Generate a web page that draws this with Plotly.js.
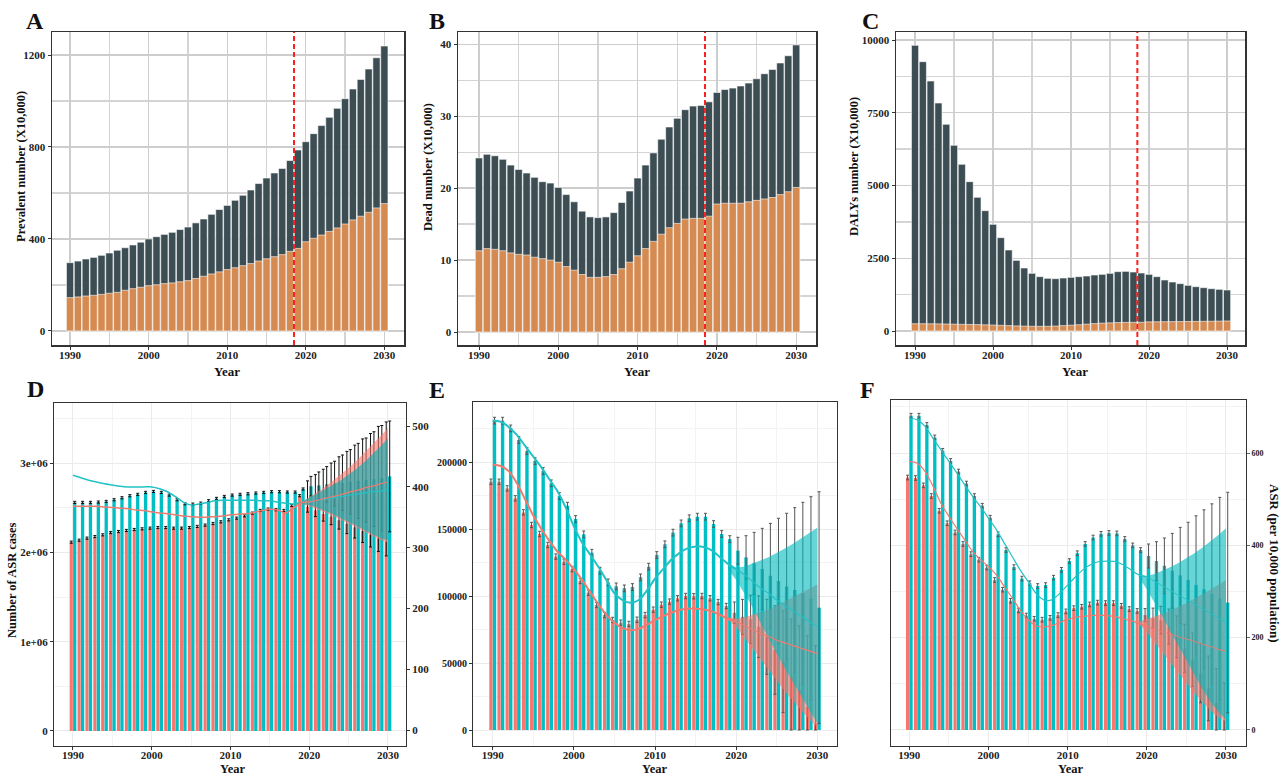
<!DOCTYPE html>
<html><head><meta charset="utf-8">
<script src="https://cdn.plot.ly/plotly-3.0.1.min.js"></script>
<style>html,body{margin:0;padding:0;background:#fff}#chart{width:1282px;height:778px}</style>
</head><body><div id="chart"></div>
<script>
// ---------- categories ----------
const years = [1990,1991,1992,1993,1994,1995,1996,1997,1998,1999,2000,2001,2002,2003,2004,2005,2006,2007,2008,2009,2010,2011,2012,2013,2014,2015,2016,2017,2018,2019,2020,2021,2022,2023,2024,2025,2026,2027,2028,2029,2030];
const histLineYears = [1990,1991,1992,1993,1994,1995,1996,1997,1998,1999,2000,2001,2002,2003,2004,2005,2006,2007,2008,2009,2010,2011,2012,2013,2014,2015,2016,2017,2018,2019,2020];
const projYears = [2020,2021,2022,2023,2024,2025,2026,2027,2028,2029,2030];
const fanYears = [2019,2020,2021,2022,2023,2024,2025,2026,2027,2028,2029,2030];
const forecastYear = 2018.5;

// ---------- A: prevalent number (X10,000) ----------
const prevTotal = [297,304,313,320,329,339,351,362,374,386,400,410,420,429,441,452,470,487,507,528,546,568,590,613,641,665,687,707,741,787,823,858,893,929,968,1010,1052,1094,1139,1188,1239];
const prevOrange = [145,148,152,155,159,164,168,177,184,190,197,201,206,209,214,219,228,238,248,257,267,275,284,293,304,314,323,332,346,359,388,403,417,433,448,465,483,499,516,535,554];

// ---------- B: dead number (X10,000) ----------
const deadTotal = [24.2,24.7,24.5,24.0,23.2,22.6,22.1,21.5,20.9,20.7,20.1,19.1,18.1,16.8,16.0,15.9,16.0,16.6,18.0,19.6,21.4,23.2,24.9,26.8,28.5,29.7,30.9,31.4,31.5,32.0,33.3,33.7,33.9,34.2,34.6,35.2,35.9,36.5,37.4,38.4,39.9];
const deadOrange = [11.3,11.6,11.5,11.3,11.0,10.8,10.7,10.4,10.2,10.0,9.7,9.1,8.6,8.0,7.6,7.6,7.7,8.0,8.8,9.7,10.6,11.6,12.6,13.6,14.5,15.1,15.7,15.8,15.8,16.1,17.8,17.9,17.9,17.9,18.1,18.3,18.5,18.7,19.1,19.5,20.1];

// ---------- C: DALYs number (X10,000) ----------
const dalyTotal = [9817,9255,8591,7835,7102,6380,5727,5132,4593,4135,3666,3207,2784,2428,2165,1982,1867,1810,1798,1821,1844,1867,1890,1924,1947,1982,2039,2050,2027,1993,1947,1867,1753,1684,1627,1569,1523,1489,1455,1432,1409];
const dalyOrange = [250,250,248,245,240,235,230,225,220,212,205,195,185,175,168,162,160,162,170,185,200,215,235,255,270,280,290,295,298,300,315,318,320,322,325,328,330,333,336,340,345];

// ---------- D: number of ASR cases (bars) and ASR (lines) ----------
const dRed = [2114000,2136000,2159000,2177000,2196000,2222000,2233000,2245000,2256000,2263000,2271000,2278000,2278000,2271000,2271000,2278000,2290000,2305000,2323000,2342000,2364000,2383000,2409000,2439000,2469000,2484000,2477000,2469000,2525000,2634000,2510000,2470000,2430000,2400000,2360000,2320000,2280000,2240000,2200000,2160000,2120000];
const dTeal = [2559000,2559000,2559000,2563000,2570000,2589000,2611000,2634000,2649000,2671000,2682000,2671000,2641000,2589000,2544000,2540000,2551000,2578000,2604000,2626000,2641000,2649000,2656000,2664000,2671000,2679000,2679000,2675000,2675000,2709000,2740000,2750000,2760000,2770000,2780000,2790000,2800000,2810000,2820000,2830000,2850000];
const dTealErr = [12000,12000,12000,12000,12000,12000,12000,12000,12000,12000,12000,12000,12000,12000,12000,12000,12000,12000,12000,12000,12000,12000,12000,12000,12000,12000,12000,12000,12000,12000,110000,150000,200000,250000,310000,360000,420000,470000,530000,590000,620000];
const dRedErrPlus = [12000,12000,12000,12000,12000,12000,12000,12000,12000,12000,12000,12000,12000,12000,12000,12000,12000,12000,12000,12000,12000,12000,12000,12000,12000,12000,12000,12000,12000,12000,290000,400000,500000,600000,710000,810000,920000,1030000,1130000,1250000,1340000];
const dRedErrMinus = [12000,12000,12000,12000,12000,12000,12000,12000,12000,12000,12000,12000,12000,12000,12000,12000,12000,12000,12000,12000,12000,12000,12000,12000,12000,12000,12000,12000,12000,12000,60000,70000,80000,90000,100000,110000,120000,130000,140000,150000,160000];
const dTealLine = [419,415,411,408,405,403,401,400,400,400,400,397,392,384,375,370,372,374,377,378,378,378,378,378,377,377,375,373,372,374,376];
const dRedLine = [368,368,368,368,367,366,365,364,362,361,359,357,356,354,352,351,350,350,351,352,354,355,356,358,361,363,362,357,365,374,375];
const dTealProj = [376,378,380,382,384,386,388,390,392,393,395];
const dRedProj = [375,378,381,384,387,391,394,398,401,405,408];
const dTealFanUp = [375,382,388,395,403,411,420,430,441,453,466,480];
const dTealFanLo = [372,370,366,361,355,349,343,336,329,322,316,312];
const dRedFanUp = [375,383,391,400,410,420,431,443,456,469,483,497];
const dRedFanLo = [372,368,363,358,352,346,340,333,326,319,313,308];
const dLeftTickVals = [0,1000000,2000000,3000000];
const dLeftTickText = ['0','1e+06','2e+06','3e+06'];

// ---------- E ----------
const eRed = [185300,185300,180300,172900,162400,153000,146300,138100,129400,125600,120100,111200,102500,93300,85800,82100,80100,79100,82300,85800,89800,93500,95800,98300,100000,99800,100000,98300,95500,92500,87500,84500,82600,77100,69600,59700,51000,39800,29800,17400,5000];
const eTeal = [230850,230850,225100,216400,208200,200700,193300,184100,174600,167400,157500,146000,132300,118900,110200,107200,105700,106700,113900,121900,130600,138600,147300,154200,158000,159200,159200,153700,146300,142500,133800,128800,124400,120200,115200,111200,107000,104500,102000,98300,91300];
const eTealErr = [2500,2500,2500,2500,2500,2500,2500,2500,2500,2500,2500,2500,2500,2500,2500,2500,2500,2500,2500,2500,2500,2500,2500,2500,2500,2500,2500,2500,2500,2500,10000,16200,23100,30300,39000,46800,54700,61400,67900,75800,86500];
const eRedErrPlus = [2000,2000,2000,2000,2000,2000,2000,2000,2000,2000,2000,2000,2000,2000,2000,2000,2000,2000,2000,2000,2000,2000,2000,2000,2000,2000,2000,2000,2000,2000,8000,13000,18000,23000,28000,33000,38000,43000,48000,53000,58000];
const eRedErrMinus = [2000,2000,2000,2000,2000,2000,2000,2000,2000,2000,2000,2000,2000,2000,2000,2000,2000,2000,2000,2000,2000,2000,2000,2000,2000,2000,2000,2000,2000,2000,8000,13000,18000,23000,28000,33000,38000,39800,29800,17400,5000];
const eTealLine = [231000,230000,226000,220000,212000,204000,196000,187000,178000,166000,152000,140000,131000,122000,112000,102000,97000,95000,97000,104000,113000,120000,127000,132000,135500,137000,136500,134000,129000,124000,120000];
const eRedLine = [198000,197000,193000,184000,172000,160000,150000,141000,133000,127000,120000,112000,103000,94000,86000,80000,76000,74500,75500,78500,82000,85000,87500,89500,90500,90500,90000,88500,86000,83000,81000];
const eTealProj = [120000,116000,111000,106000,102000,97000,93000,89000,85000,81000,77000];
const eRedProj = [81000,78000,75000,72000,70000,67000,65000,63000,61000,59000,57000];
const eTealFanUp = [122000,121000,122000,124000,126500,129000,132000,135500,139000,143000,147000,151000];
const eTealFanLo = [120000,112000,102000,92000,80000,68000,57000,46000,36000,25000,15000,5000];
const eRedFanUp = [84000,83000,84000,86000,88000,90000,93000,96000,99000,102000,105000,108500];
const eRedFanLo = [82000,77000,69000,61000,53000,45000,37000,29000,22000,15000,8000,2000];

// ---------- F: ASR (per 10,000 population) ----------
const fTeal = [681,681,661,634,605,583,560,534,507,486,460,424,390,353,328,318,312,314,330,347,366,383,403,417,425,427,426,414,400,390,377,366,356,345,335,325,314,305,295,285,276];
const fRed = [547,546,530,507,475,448,428,403,381,369,352,325,304,280,259,248,241,239,243,249,257,264,267,272,276,275,275,269,262,258,249,242,238,224,202,177,152,123,90,58,22];
const fTealErr = [5,5,5,5,5,5,5,5,5,5,5,5,5,5,5,5,5,5,5,5,5,5,5,5,5,5,5,5,5,5,26,42,60,81,104,125,150,172,195,219,239];
const fRedErrPlus = [5,5,5,5,5,5,5,5,5,5,5,5,5,5,5,5,5,5,5,5,5,5,5,5,5,5,5,5,5,5,14,22,30,38,45,52,58,64,70,75,80];
const fRedErrMinus = [5,5,5,5,5,5,5,5,5,5,5,5,5,5,5,5,5,5,5,5,5,5,5,5,5,5,5,5,5,5,14,22,30,38,45,52,58,64,70,58,22];
const fTealLine = [676,672,658,632,607,582,557,531,506,484,459,434,405,376,347,322,296,282,282,296,314,332,348,359,365,366,365,358,347,336,332];
const fRedLine = [582,578,560,528,491,463,437,412,387,369,354,336,311,286,260,239,226,223,226,233,239,244,246,248,249,248,246,241,237,231,225];
const fTealProj = [332,322,312,302,292,283,273,263,253,243,233];
const fRedProj = [225,219,213,208,202,197,192,186,181,175,170];
const fTealFanUp = [334,334,338,345,353,362,372,383,395,408,422,437];
const fTealFanLo = [330,305,275,245,213,182,150,120,90,62,40,22];
const fRedFanUp = [235,240,246,252,259,267,275,284,294,304,314,325];
const fRedFanLo = [230,212,190,168,146,124,102,80,60,42,28,18];

// ---------- styles ----------
const SERIF = 'Liberation Serif, Times New Roman, serif';
const DARK = '#3c4d53', ORANGE = '#d58a51';
const RED = '#F8766D', TEAL = '#00BFC4';
const tickFont = (s) => ({family: SERIF, size: s, color: '#222', weight: 'bold'});

function topX(domain, range, anchor) {
  return {domain, range, anchor, showline:true, mirror:true, linecolor:'#333', linewidth:1.5,
    showgrid:true, gridcolor:'#cdcdcd', gridwidth:1.3, zeroline:false, ticks:'outside', ticklen:3,
    tickcolor:'#333', tickfont:tickFont(11), tick0:1990, dtick:10, ticklabelstandoff:-4,
    minor:{tick0:1990, dtick:5, showgrid:true, gridcolor:'#d4d4d4', gridwidth:1.3}};
}
function topY(domain, range, anchor, dtick) {
  return {domain, range, anchor, showline:true, mirror:true, linecolor:'#333', linewidth:1.5,
    showgrid:true, gridcolor:'#cdcdcd', gridwidth:1.3, zeroline:false, ticks:'outside', ticklen:3,
    tickcolor:'#333', tickfont:tickFont(11), tick0:0, dtick:dtick, tickformat:'d',
    minor:{tick0:0, dtick:dtick/2, showgrid:true, gridcolor:'#d4d4d4', gridwidth:1.3}};
}
function botX(domain, range, anchor) {
  return {domain, range, anchor, showline:true, mirror:true, linecolor:'#333', linewidth:1,
    showgrid:true, gridcolor:'#ebebeb', gridwidth:1, zeroline:false, ticks:'outside', ticklen:3,
    tickcolor:'#333', tickfont:tickFont(11), tick0:1990, dtick:10, ticklabelstandoff:-4,
    minor:{tick0:1990, dtick:5, showgrid:true, gridcolor:'#f3f3f3', gridwidth:1}};
}
function botY(domain, range, anchor, extra) {
  return Object.assign({domain, range, anchor, showline:true, mirror:true, linecolor:'#333', linewidth:1,
    showgrid:true, gridcolor:'#ebebeb', gridwidth:1, zeroline:false, ticks:'outside', ticklen:3,
    tickcolor:'#333', tickfont:tickFont(11)}, extra);
}

const traces = [];
function stacked(total, orange, xa, ya) {
  traces.push({type:'bar', x:years, y:total, xaxis:xa, yaxis:ya, width:0.92,
    marker:{color:DARK, line:{color:'#ffffff', width:0.6}}});
  traces.push({type:'bar', x:years, y:orange, xaxis:xa, yaxis:ya, width:0.92,
    marker:{color:ORANGE, line:{color:'#ffffff', width:0.6}}});
}
stacked(prevTotal, prevOrange, 'x', 'y');
stacked(deadTotal, deadOrange, 'x2', 'y2');
stacked(dalyTotal, dalyOrange, 'x3', 'y3');

function pairBars(red, teal, redPlus, redMinus, tealErr, xa, ya, errColor) {
  traces.push({type:'bar', x:years, y:red, xaxis:xa, yaxis:ya, width:0.4, offset:-0.42,
    marker:{color:RED},
    error_y:{type:'data', symmetric:false, array:redPlus, arrayminus:redMinus, color:errColor, thickness:1, width:1.5}});
  traces.push({type:'bar', x:years, y:teal, xaxis:xa, yaxis:ya, width:0.42, offset:0.01,
    marker:{color:TEAL},
    error_y:{type:'data', array:tealErr, color:errColor, thickness:1, width:1.5}});
}
function fan(up, lo, xa, ya, color) {
  traces.push({type:'scatter', mode:'lines', x:fanYears.concat(fanYears.slice().reverse()),
    y:up.concat(lo.slice().reverse()), xaxis:xa, yaxis:ya, fill:'toself', fillcolor:color,
    line:{width:0, color:color}});
}
function line(xs, ys, xa, ya, color, w) {
  traces.push({type:'scatter', mode:'lines', x:xs, y:ys, xaxis:xa, yaxis:ya,
    line:{color:color, width:w, shape:'spline', smoothing:0.8}});
}

// D
pairBars(dRed, dTeal, dRedErrPlus, dRedErrMinus, dTealErr, 'x4', 'y4', '#111');
fan(dRedFanUp, dRedFanLo, 'x4', 'y7', 'rgba(248,118,109,0.6)');
fan(dTealFanUp, dTealFanLo, 'x4', 'y7', 'rgba(0,175,180,0.6)');
line(histLineYears, dTealLine, 'x4', 'y7', '#22c2c7', 1.5);
line(histLineYears, dRedLine, 'x4', 'y7', '#f07a70', 1.5);
line(projYears, dTealProj, 'x4', 'y7', '#22c2c7', 1.2);
line(projYears, dRedProj, 'x4', 'y7', '#f07a70', 1.2);

// E
pairBars(eRed, eTeal, eRedErrPlus, eRedErrMinus, eTealErr, 'x5', 'y5', '#555');
fan(eRedFanUp, eRedFanLo, 'x5', 'y5', 'rgba(248,118,109,0.6)');
fan(eTealFanUp, eTealFanLo, 'x5', 'y5', 'rgba(0,185,190,0.6)');
line(histLineYears, eTealLine, 'x5', 'y5', '#22c2c7', 2);
line(histLineYears, eRedLine, 'x5', 'y5', '#f07a70', 2);
line(projYears, eTealProj, 'x5', 'y5', '#22c2c7', 1.2);
line(projYears, eRedProj, 'x5', 'y5', '#f07a70', 1.2);

// F
pairBars(fRed, fTeal, fRedErrPlus, fRedErrMinus, fTealErr, 'x6', 'y6', '#555');
fan(fRedFanUp, fRedFanLo, 'x6', 'y6', 'rgba(248,118,109,0.6)');
fan(fTealFanUp, fTealFanLo, 'x6', 'y6', 'rgba(0,185,190,0.6)');
line(histLineYears, fTealLine, 'x6', 'y6', '#22c2c7', 1.2);
line(histLineYears, fRedLine, 'x6', 'y6', '#f07a70', 1.2);
line(projYears, fTealProj, 'x6', 'y6', '#22c2c7', 1);
line(projYears, fRedProj, 'x6', 'y6', '#f07a70', 1);

const W = 1282, H = 778;
const px = (v) => v / W, py = (v) => 1 - v / H;
const dom = (a, b, c, d) => ({x:[px(a), px(b)], y:[py(d), py(c)]});
const dA = dom(52, 404, 32, 345), dB = dom(458, 816, 32, 345), dC = dom(896, 1245, 32, 345);
const dD = dom(54, 406, 403, 746), dE = dom(473, 837, 402, 746), dF = dom(891, 1246, 400, 746);

function vline(xa) {
  return {type:'line', xref:xa, yref:xa.replace('x', 'y') + ' domain', x0:forecastYear, x1:forecastYear, y0:0, y1:1,
    line:{color:'#ff1f1f', width:2, dash:'5px,3px'}};
}
function ann(text, x, y, size, angle) {
  return {text, x:px(x), y:py(y), xref:'paper', yref:'paper', showarrow:false, xanchor:'center', yanchor:'middle',
    textangle:angle || 0, font:{family:SERIF, size:size, color:'#111', weight:'bold'}};
}

const layout = {
  width:W, height:H, margin:{l:0, r:0, t:0, b:0}, paper_bgcolor:'#fff', plot_bgcolor:'#fff',
  barmode:'overlay', showlegend:false, font:{family:SERIF, weight:'bold'},
  xaxis:topX(dA.x, [1987.7, 2032.5], 'y'),
  yaxis:topY(dA.y, [-61, 1300], 'x', 400),
  xaxis2:topX(dB.x, [1987.35, 2032.5], 'y2'),
  yaxis2:topY(dB.y, [-1.8, 41.7], 'x2', 10),
  xaxis3:topX(dC.x, [1987.56, 2032.3], 'y3'),
  yaxis3:topY(dC.y, [-481, 10275], 'x3', 2500),
  xaxis4:botX(dD.x, [1987.59, 2032.29], 'y4'),
  yaxis4:botY(dD.y, [-168000, 3672000], 'x4', {tickmode:'array', tickvals:dLeftTickVals, ticktext:dLeftTickText,
    minor:{tickmode:'linear', tick0:0, dtick:500000, showgrid:true, gridcolor:'#f3f3f3', gridwidth:1}}),
  yaxis7:{overlaying:'y4', anchor:'x4', side:'right', range:[-26.3, 538], tick0:0, dtick:100, showgrid:false,
    zeroline:false, ticks:'outside', ticklen:3, tickcolor:'#333', tickfont:tickFont(11)},
  xaxis5:botX(dE.x, [1987.57, 2032.43], 'y5'),
  yaxis5:botY(dE.y, [-11940, 244776], 'x5', {tick0:0, dtick:50000, tickformat:'d', tickfont:tickFont(10),
    minor:{tick0:0, dtick:25000, showgrid:true, gridcolor:'#f3f3f3', gridwidth:1}}),
  xaxis6:botX(dF.x, [1987.69, 2032.53], 'y6'),
  yaxis6:botY(dF.y, [-34.7, 715], 'x6', {side:'right', tick0:0, dtick:200, tickfont:tickFont(8), tickcolor:'#666',
    minor:{tick0:0, dtick:100, showgrid:true, gridcolor:'#f3f3f3', gridwidth:1}}),
  shapes:[vline('x'), vline('x2'), vline('x3')],
  annotations:[
    ann('A', 35, 21, 24), ann('B', 437, 21, 24), ann('C', 870, 21, 24),
    ann('D', 35, 389, 24), ann('E', 437, 390, 24), ann('F', 868, 390, 24),
    ann('Prevalent number (X10,000)', 21, 167, 12.5, -90),
    ann('Dead number (X10,000)', 428, 167, 12.5, -90),
    ann('DALYs number (X10,000)', 854, 167, 12.5, -90),
    ann('Year', 227, 371, 13), ann('Year', 637, 371, 13), ann('Year', 1075, 371, 13),
    ann('Number of ASR cases', 12, 580, 12.5, -90),
    ann('Year', 232, 769, 12.5), ann('Year', 654, 769, 12.5), ann('Year', 1070, 769, 12.5),
    ann('ASR (per 10,000 population)', 1275, 563, 13, 90)
  ]
};

Plotly.newPlot('chart', traces, layout, {displayModeBar:false, staticPlot:true});
</script>
</body></html>
